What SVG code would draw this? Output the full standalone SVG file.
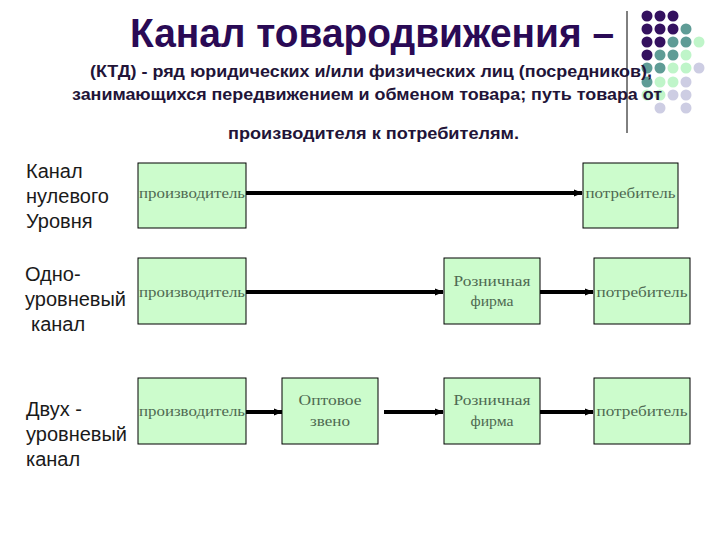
<svg xmlns="http://www.w3.org/2000/svg" width="720" height="540" viewBox="0 0 720 540">
<style>
.title{font-family:"Liberation Sans",Arial,sans-serif;font-weight:bold;font-size:40px;fill:#2a0a55}
.sub{font-family:"Liberation Sans",Arial,sans-serif;font-weight:bold;font-size:16px;fill:#221438}
.lbl{font-family:"Liberation Sans",Arial,sans-serif;font-size:20px;fill:#1a1a1a}
.box{fill:#ccfccc;stroke:#000;stroke-width:1}
.bt{font-family:"Liberation Serif","Times New Roman",serif;font-size:14.5px;fill:#4f6a52;text-anchor:middle}
.con{stroke:#000;stroke-width:4;fill:none;marker-end:url(#ah)}
.p{fill:#34115f}.t{fill:#5f9c96}.g{fill:#bff5c9}.l{fill:#cdcde3}
</style>
<defs>
<marker id="ah" viewBox="0 0 10 10" refX="9" refY="5" markerWidth="9" markerHeight="9" markerUnits="userSpaceOnUse" orient="auto">
<path d="M0,1 L10,5 L0,9 Z" fill="#000"/>
</marker>
</defs>
<rect width="720" height="540" fill="#fff"/>
<g id="decor">
<line x1="627" y1="11" x2="627" y2="133" stroke="#000" stroke-width="1"/>
<g>
<circle class="p" cx="647" cy="16" r="5.5"/><circle class="p" cx="660" cy="16" r="5.5"/><circle class="p" cx="673" cy="16" r="5.5"/>
<circle class="p" cx="647" cy="29" r="5.5"/><circle class="p" cx="660" cy="29" r="5.5"/><circle class="p" cx="673" cy="29" r="5.5"/><circle class="t" cx="686" cy="29" r="5.5"/>
<circle class="p" cx="647" cy="42" r="5.5"/><circle class="p" cx="660" cy="42" r="5.5"/><circle class="t" cx="673" cy="42" r="5.5"/><circle class="t" cx="686" cy="42" r="5.5"/><circle class="g" cx="699" cy="42" r="5.5"/>
<circle class="p" cx="647" cy="55" r="5.5"/><circle class="t" cx="660" cy="55" r="5.5"/><circle class="t" cx="673" cy="55" r="5.5"/><circle class="g" cx="686" cy="55" r="5.5"/>
<circle class="t" cx="647" cy="68" r="5.5"/><circle class="t" cx="660" cy="68" r="5.5"/><circle class="g" cx="673" cy="68" r="5.5"/><circle class="g" cx="686" cy="68" r="5.5"/><circle class="l" cx="699" cy="68" r="5.5"/>
<circle class="t" cx="647" cy="82" r="5.5"/><circle class="g" cx="660" cy="82" r="5.5"/><circle class="g" cx="673" cy="82" r="5.5"/><circle class="l" cx="686" cy="82" r="5.5"/>
<circle class="g" cx="647" cy="95" r="5.5"/><circle class="g" cx="660" cy="95" r="5.5"/><circle class="l" cx="673" cy="95" r="5.5"/><circle class="l" cx="686" cy="95" r="5.5"/>
<circle class="l" cx="660" cy="108" r="5.5"/><circle class="l" cx="686" cy="108" r="5.5"/>
</g>
</g>
<g id="heading">
<text class="title" x="130" y="47" textLength="484" lengthAdjust="spacingAndGlyphs">Канал товародвижения –</text>
<text class="sub" x="90" y="77" textLength="562" lengthAdjust="spacingAndGlyphs">(КТД) - ряд юридических и/или физических лиц (посредников),</text>
<text class="sub" x="72" y="100" textLength="590" lengthAdjust="spacingAndGlyphs">занимающихся передвижением и обменом товара; путь товара от</text>
<text class="sub" x="228" y="139" textLength="291" lengthAdjust="spacingAndGlyphs">производителя к потребителям.</text>
</g>
<g id="labels">
<text class="lbl" x="26" y="178">Канал</text>
<text class="lbl" x="26" y="203">нулевого</text>
<text class="lbl" x="26" y="228">Уровня</text>
<text class="lbl" x="25" y="281">Одно-</text>
<text class="lbl" x="25" y="306">уровневый</text>
<text class="lbl" x="31" y="331">канал</text>
<text class="lbl" x="26" y="416">Двух -</text>
<text class="lbl" x="26" y="441">уровневый</text>
<text class="lbl" x="26" y="466">канал</text>
</g>
<g id="connectors">
<line class="con" x1="246" y1="193" x2="582" y2="193"/>
<line class="con" x1="246" y1="292" x2="443" y2="292"/>
<line class="con" x1="540" y1="292" x2="593" y2="292"/>
<line class="con" x1="246" y1="412" x2="282" y2="412"/>
<line class="con" x1="384" y1="412" x2="443" y2="412"/>
<line class="con" x1="540" y1="412" x2="593" y2="412"/>
</g>
<g id="n1-producer">
<rect class="box" x="138" y="163" width="108" height="65"/>
<text class="bt" x="192" y="198" textLength="106" lengthAdjust="spacingAndGlyphs">производитель</text>
</g>
<g id="n1-consumer">
<rect class="box" x="583" y="163" width="95" height="65"/>
<text class="bt" x="630.5" y="198" textLength="90" lengthAdjust="spacingAndGlyphs">потребитель</text>
</g>
<g id="n2-producer">
<rect class="box" x="138" y="258" width="108" height="66"/>
<text class="bt" x="192" y="297" textLength="106" lengthAdjust="spacingAndGlyphs">производитель</text>
</g>
<g id="n2-retail">
<rect class="box" x="444" y="258" width="96" height="66"/>
<text class="bt" x="492" y="286" textLength="77" lengthAdjust="spacingAndGlyphs">Розничная</text>
<text class="bt" x="492" y="306" textLength="43" lengthAdjust="spacingAndGlyphs">фирма</text>
</g>
<g id="n2-consumer">
<rect class="box" x="594" y="258" width="96" height="66"/>
<text class="bt" x="642" y="297" textLength="91" lengthAdjust="spacingAndGlyphs">потребитель</text>
</g>
<g id="n3-producer">
<rect class="box" x="138" y="378" width="108" height="66"/>
<text class="bt" x="192" y="416" textLength="106" lengthAdjust="spacingAndGlyphs">производитель</text>
</g>
<g id="n3-wholesale">
<rect class="box" x="282" y="378" width="96" height="66"/>
<text class="bt" x="330" y="405" textLength="63" lengthAdjust="spacingAndGlyphs">Оптовое</text>
<text class="bt" x="330" y="426" textLength="40" lengthAdjust="spacingAndGlyphs">звено</text>
</g>
<g id="n3-retail">
<rect class="box" x="444" y="378" width="96" height="66"/>
<text class="bt" x="492" y="405" textLength="77" lengthAdjust="spacingAndGlyphs">Розничная</text>
<text class="bt" x="492" y="426" textLength="43" lengthAdjust="spacingAndGlyphs">фирма</text>
</g>
<g id="n3-consumer">
<rect class="box" x="594" y="378" width="96" height="66"/>
<text class="bt" x="642" y="416" textLength="91" lengthAdjust="spacingAndGlyphs">потребитель</text>
</g>
</svg>
